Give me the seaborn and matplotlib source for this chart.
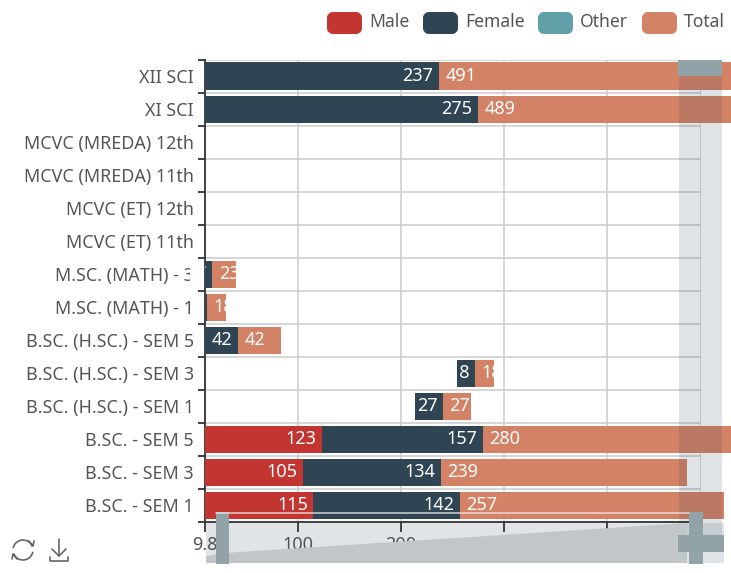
import matplotlib
matplotlib.use("Agg")
import matplotlib.pyplot as plt
import numpy as np
import pandas as pd
import seaborn as sns
from matplotlib.patches import Rectangle, FancyBboxPatch, Polygon, Arc
from matplotlib.transforms import Bbox, TransformedBbox

categories = ["XII SCI", "XI SCI", "MCVC (MREDA) 12th", "MCVC (MREDA) 11th", "MCVC (ET) 12th",
              "MCVC (ET) 11th", "M.SC. (MATH) - 3", "M.SC. (MATH) - 1", "B.SC. (H.SC.) - SEM 5",
              "B.SC. (H.SC.) - SEM 3", "B.SC. (H.SC.) - SEM 1", "B.SC. - SEM 5", "B.SC. - SEM 3", "B.SC. - SEM 1"]
male = [0, 0, 0, 0, 0, 0, 0, 0, 0, 254, 214, 123, 105, 115]
male_shown = [0, 0, 0, 0, 0, 0, 0, 0, 0, 0, 0, 123, 105, 115]
female = [237, 275, 0, 0, 0, 0, 17, 12, 42, 18, 27, 157, 134, 142]
total = [491, 489, 0, 0, 0, 0, 23, 18, 42, 18, 27, 280, 239, 257]
series_names = ["Male", "Female", "Other", "Total"]
series_colors = ["#c23531", "#2f4554", "#61a0a8", "#d48265"]
x_ticks = [9.8, 100, 200, 300, 400, 491.4]
x_labels = ["9.8", "100", "200", "300", "400", ""]

W, H = 731, 573
FONT = "Noto Sans"
TXT = "#555555"

sns.set_theme(style="white")
plt.rcParams["font.family"] = [FONT, "DejaVu Sans"]
fig = plt.figure(figsize=(W / 100, H / 100), dpi=100, facecolor="white")
ax = fig.add_axes([205 / W, 1 - 522 / H, (701 - 205) / W, (522 - 59.5) / H])

df = pd.DataFrame({"cat": categories, "male": male, "shown": male_shown,
                   "female": female, "total": total})
df["fem_end"] = df["male"] + df["female"]
df["tot_end"] = df["fem_end"] + df["total"]

clip = Rectangle((205 / W, 0), (W - 205) / W, 1, transform=fig.transFigure)
BAR_W = 0.82
sns.barplot(data=df, y="cat", x="shown", color=series_colors[0], saturation=1, width=BAR_W, ax=ax,
            orient="y", order=categories, zorder=3)
sns.barplot(data=df, y="cat", x="female", left=df["male"].to_numpy(), color=series_colors[1], saturation=1,
            width=BAR_W, ax=ax, orient="y", order=categories, zorder=3)
sns.barplot(data=df, y="cat", x="total", left=df["fem_end"].to_numpy(), color=series_colors[3], saturation=1,
            width=BAR_W, ax=ax, orient="y", order=categories, zorder=3)

ax.set_xlim(x_ticks[0], x_ticks[-1])
ax.set_ylim(13.5, -0.5)
ax.set_xlabel("")
ax.set_ylabel("")

for cont, side in zip(ax.containers, ["r", "r", "l"]):
    for bar, v in zip(cont, cont.datavalues):
        bar.set_clip_path(clip)
        bar.set_linewidth(0)
        x0, x1 = bar.get_x(), bar.get_x() + bar.get_width()
        if v <= 0 or x1 - x_ticks[0] < 5:
            continue
        yc = bar.get_y() + bar.get_height() / 2
        if side == "r":
            t = ax.annotate(str(int(v)), (x1, yc), xytext=(-4, 0), textcoords="offset points",
                            ha="right", va="center", color="white", fontsize=13, zorder=4)
        else:
            t = ax.annotate(str(int(v)), (x0, yc), xytext=(4.5, 0), textcoords="offset points",
                            ha="left", va="center", color="white", fontsize=13, zorder=4)
        t.set_clip_on(True)
        bb = Bbox([[max(x0, x_ticks[0]), bar.get_y()], [x1, bar.get_y() + bar.get_height()]])
        t.set_clip_box(TransformedBbox(bb, ax.transData))

ax.set_yticks(np.arange(14))
ax.set_yticklabels(categories)
ax.set_yticks(np.arange(-0.5, 14), minor=True)
ax.set_xticks(x_ticks)
ax.set_xticklabels(x_labels)
ax.tick_params(axis="y", which="major", length=0, pad=8, labelsize=12.9, labelcolor=TXT)
ax.tick_params(axis="y", which="minor", length=5, width=1.3, color="#333333", left=True)
ax.tick_params(axis="x", which="major", length=7, width=1.3, color="#333333", bottom=True, pad=3,
               labelsize=13, labelcolor=TXT)
ax.grid(True, axis="x", which="major", color="#cccccc", lw=1.1, zorder=1)
ax.grid(True, axis="y", which="minor", color="#cccccc", lw=1.1, zorder=1)
ax.set_axisbelow(True)
for s in ["top", "right"]:
    ax.spines[s].set_visible(False)
for s in ["left", "bottom"]:
    ax.spines[s].set_color("#333333")
    ax.spines[s].set_linewidth(1.3)

# the "M.SC. (MATH) - 3" label is cut short by the chart's label box
for lab in ax.get_yticklabels():
    if lab.get_text() == "M.SC. (MATH) - 3":
        lab.set_clip_on(True)
        lab.set_clip_box(Bbox([[0, 0], [190, H]]))

# overlay in pixel coordinates: legend, zoom sliders, toolbox
ov = fig.add_axes([0, 0, 1, 1], zorder=5)
ov.set_xlim(0, W)
ov.set_ylim(H, 0)
ov.axis("off")
ov.patch.set_alpha(0)

legend_x = [327, 423, 538, 642]
for name, col, lx in zip(series_names, series_colors, legend_x):
    ov.add_patch(FancyBboxPatch((lx + 3, 15), 29, 16, boxstyle="round,pad=0,rounding_size=3",
                                mutation_aspect=1, fc=col, ec=col, lw=6 * 0.72, joinstyle="round"))
    ov.text(lx + 42, 22, name, ha="left", va="center", fontsize=12.6, color=TXT)

strip = "#2f4554"
ov.add_patch(Rectangle((679, 60), 43, 483, fc=strip, alpha=0.15, lw=0))
ov.add_patch(Rectangle((678, 60), 44, 16, fc="#91a3a6", lw=0))

ov.add_patch(Rectangle((206, 523), 518, 40, fc=strip, alpha=0.14, lw=0))
ov.add_patch(Polygon([(224, 553), (687, 523), (687, 563), (206, 563), (206, 556)], fc="#c1c6c9", lw=0))
ov.plot([216, 689], [513, 513], color="#e8e8e8", lw=1.2, alpha=0.8)
ov.add_patch(Rectangle((216, 512), 13, 52, fc="#91a3a6", lw=0))
ov.add_patch(Rectangle((689, 512), 14, 52, fc="#91a3a6", lw=0))
ov.add_patch(Rectangle((678, 535), 46, 17, fc="#91a3a6", lw=0))

icon = "#666666"
ov.add_patch(Arc((23, 550), 20, 20, theta1=190, theta2=340, color=icon, lw=1.2))
ov.add_patch(Arc((23, 550), 20, 20, theta1=10, theta2=160, color=icon, lw=1.2))
ov.plot([29, 33, 34], [541, 546, 541], color=icon, lw=1.2)
ov.plot([12, 13, 17], [559, 554, 559], color=icon, lw=1.2)
ov.plot([59, 59], [539, 556], color=icon, lw=1.2)
ov.plot([52, 59, 66], [549, 556, 549], color=icon, lw=1.2)
ov.plot([50, 50, 68, 68], [557, 561, 561, 557], color=icon, lw=1.2)

fig.savefig("out.png", dpi=100)
